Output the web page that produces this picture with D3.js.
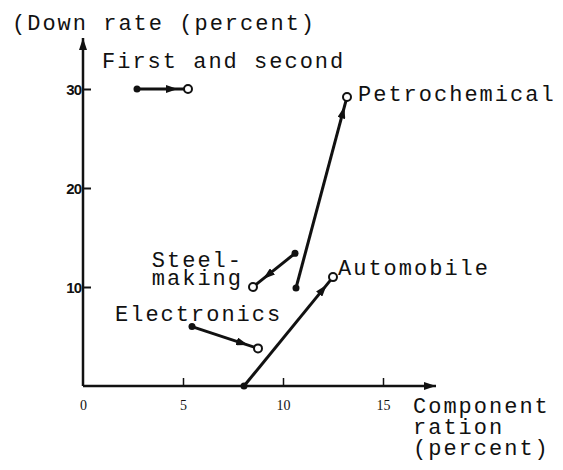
<!DOCTYPE html>
<meta charset="utf-8">
<style>
 body { margin: 0; background: #fff; }
 .lbl { font: 22px "Liberation Mono", monospace; letter-spacing: 2px; fill: #111; }
 .ytick text { font: bold 15px "Liberation Sans", sans-serif; letter-spacing: -1px; fill: #111; }
 .xtick text { font: 14px "Liberation Serif", serif; fill: #111; }
</style>
<body>
<script src="https://cdn.jsdelivr.net/npm/d3@7"></script>
<script>

 // industries, start point (filled dot) -> end point (open circle)
 var industries = ["First and second", "Petrochemical", "Steel-making", "Automobile", "Electronics"];
 var startRatio = [2.7, 10.65, 10.6, 8.05, 5.45];
 var startDown  = [30, 9.9, 13.4, 0, 6];
 var endRatio   = [5.25, 13.2, 8.5, 12.5, 8.75];
 var endDown    = [30, 29.2, 10, 11, 3.8];
 var arrowAt    = [0.8, 0.95, 0.76, 0.93, 0.85];

 var xTicks = [0, 5, 10, 15];
 var yTicks = [10, 20, 30];

 var width = 563, height = 470;

 var x = d3.scaleLinear().domain([0, 15]).range([83, 383]);
 var y = d3.scaleLinear().domain([0, 30]).range([386, 89]);

 var svg = d3.select("body").append("svg")
             .attr("width", width)
             .attr("height", height);

 var defs = svg.append("defs");
 defs.append("marker")
     .attr("id", "head")
     .attr("viewBox", "0 0 12 8")
     .attr("refX", 12).attr("refY", 4)
     .attr("markerWidth", 12).attr("markerHeight", 8)
     .attr("markerUnits", "userSpaceOnUse")
     .attr("orient", "auto")
   .append("path")
     .attr("d", "M0,0 L12,4 L0,8 Z")
     .attr("fill", "#111");

 // axes lines with arrows
 svg.append("line")
    .attr("x1", x(0)).attr("y1", y(0))
    .attr("x2", x(0)).attr("y2", 38)
    .attr("stroke", "#111").attr("stroke-width", 2.5)
    .attr("marker-end", "url(#head)");

 svg.append("line")
    .attr("x1", x(0)).attr("y1", y(0))
    .attr("x2", 436).attr("y2", y(0))
    .attr("stroke", "#111").attr("stroke-width", 2.5)
    .attr("marker-end", "url(#head)");

 // y ticks
 var gY = svg.append("g").attr("class", "ytick")
             .attr("transform", "translate(" + x(0) + ",0)")
             .call(d3.axisRight(y).tickValues(yTicks).tickSize(8).tickFormat(d3.format("d")));
 gY.select(".domain").remove();
 gY.selectAll("line").attr("stroke", "#111").attr("stroke-width", 2);
 gY.selectAll("text").attr("x", -2).attr("text-anchor", "end").attr("dy", "0.35em");

 // x ticks
 var gX = svg.append("g").attr("class", "xtick")
             .attr("transform", "translate(0," + y(0) + ")")
             .call(d3.axisTop(x).tickValues(xTicks).tickSize(8).tickFormat(d3.format("d")));
 gX.select(".domain").remove();
 gX.selectAll("line").attr("stroke", "#111").attr("stroke-width", 1.5)
   .attr("opacity", function(d) { return d === 0 ? 0 : 1; });
 gX.selectAll("text").attr("y", 24).attr("dy", 0).attr("text-anchor", "middle");

 // segments
 var data = industries.map(function(name, i) {
     return {
         name: name,
         x0: startRatio[i], y0: startDown[i],
         x1: endRatio[i], y1: endDown[i],
         t: arrowAt[i]
     };
 });

 var seg = svg.append("g").selectAll("g").data(data).join("g");

 seg.append("line")
    .attr("x1", function(d) { return x(d.x0); })
    .attr("y1", function(d) { return y(d.y0); })
    .attr("x2", function(d) { return x(d.x1); })
    .attr("y2", function(d) { return y(d.y1); })
    .attr("stroke", "#111").attr("stroke-width", 3);

 // arrowheads along the segment
 seg.append("line")
    .attr("x1", function(d) { return x(d.x0); })
    .attr("y1", function(d) { return y(d.y0); })
    .attr("x2", function(d) { return x(d.x0 + (d.x1 - d.x0) * d.t); })
    .attr("y2", function(d) { return y(d.y0 + (d.y1 - d.y0) * d.t); })
    .attr("stroke", "none")
    .attr("marker-end", "url(#head)");

 seg.append("circle")
    .attr("cx", function(d) { return x(d.x0); })
    .attr("cy", function(d) { return y(d.y0); })
    .attr("r", 3.5).attr("fill", "#111");

 seg.append("circle")
    .attr("cx", function(d) { return x(d.x1); })
    .attr("cy", function(d) { return y(d.y1); })
    .attr("r", 4).attr("fill", "#fff")
    .attr("stroke", "#111").attr("stroke-width", 2);

 // labels
 var lbl = svg.append("g").attr("class", "lbl");

 lbl.append("text").attr("x", 12).attr("y", 30).text("(Down rate (percent)");
 lbl.append("text").attr("x", 102).attr("y", 68).text(industries[0]);
 lbl.append("text").attr("x", x(endRatio[1]) + 11).attr("y", y(endDown[1]) + 4).text(industries[1]);
 lbl.append("text").attr("x", x(endRatio[3]) + 5).attr("y", y(endDown[3]) - 2).text(industries[3]);
 lbl.append("text").attr("x", x(endRatio[2]) - 10).attr("y", y(endDown[2]) - 20)
    .attr("text-anchor", "end").text("Steel-");
 lbl.append("text").attr("x", x(endRatio[2]) - 10).attr("y", y(endDown[2]) - 2)
    .attr("text-anchor", "end").text("making");
 lbl.append("text").attr("x", 115).attr("y", 321).text(industries[4]);

 lbl.append("text").attr("x", 413).attr("y", 413).text("Component");
 lbl.append("text").attr("x", 413).attr("y", 434).text("ration");
 lbl.append("text").attr("x", 413).attr("y", 455).text("(percent)");

</script>
